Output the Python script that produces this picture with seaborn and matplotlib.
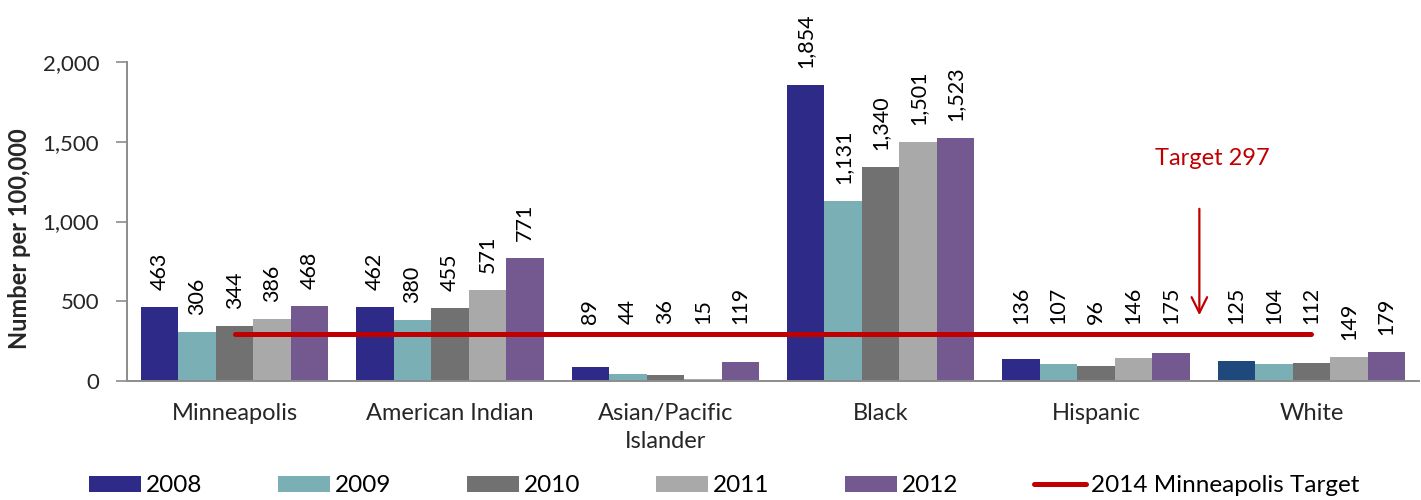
import numpy as np
import pandas as pd
import matplotlib
matplotlib.use("Agg")
import matplotlib.pyplot as plt
from matplotlib.patches import Patch
from matplotlib.lines import Line2D
from matplotlib.ticker import FuncFormatter
import seaborn as sns

# ---- data -------------------------------------------------------------
categories = ["Minneapolis", "American Indian", "Asian/Pacific\nIslander",
              "Black", "Hispanic", "White"]
years = ["2008", "2009", "2010", "2011", "2012"]
rate_2008 = [463, 462, 89, 1854, 136, 125]
rate_2009 = [306, 380, 44, 1131, 107, 104]
rate_2010 = [344, 455, 36, 1340, 96, 112]
rate_2011 = [386, 571, 15, 1501, 146, 149]
rate_2012 = [468, 771, 119, 1523, 175, 179]
target_value = 297
target_label = "2014 Minneapolis Target"
y_ticks = [0, 500, 1000, 1500, 2000]

series = [rate_2008, rate_2009, rate_2010, rate_2011, rate_2012]
df = pd.DataFrame({
    "category": np.repeat([categories], len(years), axis=0).ravel(),
    "year": np.repeat(years, len(categories)),
    "value": np.concatenate(series),
})

year_colors = ["#2E2A87", "#7AAFB5", "#717171", "#A9A9A9", "#73598F"]
white_2008_color = "#1F497D"
target_color = "#C00000"

# ---- style ------------------------------------------------------------
sns.set_theme(style="white")
plt.rcParams["font.family"] = ["Lato", "DejaVu Sans"]
plt.rcParams["text.color"] = "black"

fig = plt.figure(figsize=(14.21, 5.0), dpi=100)
ax = fig.add_axes([127 / 1421, 1 - 381 / 500, (1419 - 127) / 1421, (381 - 62) / 500])

sns.barplot(data=df, x="category", y="value", hue="year", hue_order=years,
            palette=year_colors, width=0.87, gap=0, saturation=1,
            edgecolor="none", linewidth=0, legend=False, ax=ax)

# the 2008 bar for White uses a separate fill
ax.containers[0][5].set_facecolor(white_2008_color)

# target line across the category centres
sns.lineplot(x=np.arange(len(categories)), y=[target_value] * len(categories),
             color=target_color, linewidth=3.6, ax=ax,
             solid_capstyle="round", zorder=3)

ax.set_xlim(-0.5, len(categories) - 0.5)
ax.set_ylim(0, 2000)
ax.set_yticks(y_ticks)
ax.yaxis.set_major_formatter(FuncFormatter(lambda v, p: f"{int(v):,}"))

# value labels above the bars, lifted clear of the target line
line_start, line_end = 0, len(categories) - 1
for container in ax.containers:
    for bar in container:
        h = bar.get_height()
        cx = bar.get_x() + bar.get_width() / 2
        y = h + 107
        if line_start <= cx <= line_end:
            y = max(y, target_value + 60)
        ax.text(cx, y, f"{int(round(h)):,}", rotation=90, ha="center",
                va="bottom", fontsize=15.5, color="black", clip_on=False)

# target callout
ax.annotate("", xy=(4.48, target_value + 98), xytext=(4.48, 1097),
            arrowprops=dict(arrowstyle="->", color=target_color, lw=1.6,
                            mutation_scale=28))
ax.text(4.54, 1392, f"Target {target_value}", ha="center", va="center",
        fontsize=17, color=target_color)

# axes cosmetics
sns.despine(ax=ax, top=True, right=True)
for side in ("left", "bottom"):
    ax.spines[side].set_color("#8C8C8C")
    ax.spines[side].set_linewidth(1.4)
ax.tick_params(axis="y", which="major", direction="out", length=8, width=1.2,
               color="#8C8C8C", labelsize=16, pad=12, left=True)
ax.tick_params(axis="x", length=0, labelsize=17, pad=16)
for lbl in ax.get_xticklabels():
    lbl.set_linespacing(1.4)
ax.set_xlabel("")
ax.set_ylabel("Number per 100,000", fontsize=17, fontweight="bold")
ax.yaxis.set_label_coords(-0.074, 0.445)

# legend along the bottom
handles = [Patch(facecolor=c, edgecolor="none") for c in year_colors]
handles.append(Line2D([0], [0], color=target_color, lw=3.6, solid_capstyle="round"))
fig.legend(handles, years + [target_label], ncol=6, loc="center left",
           bbox_to_anchor=(89 / 1421, 1 - 486 / 500), frameon=False,
           fontsize=17.5, handlelength=2.15, handleheight=0.62,
           handletextpad=0.2, columnspacing=3.1, borderaxespad=0, borderpad=0)

fig.savefig("out.png", dpi=100)
